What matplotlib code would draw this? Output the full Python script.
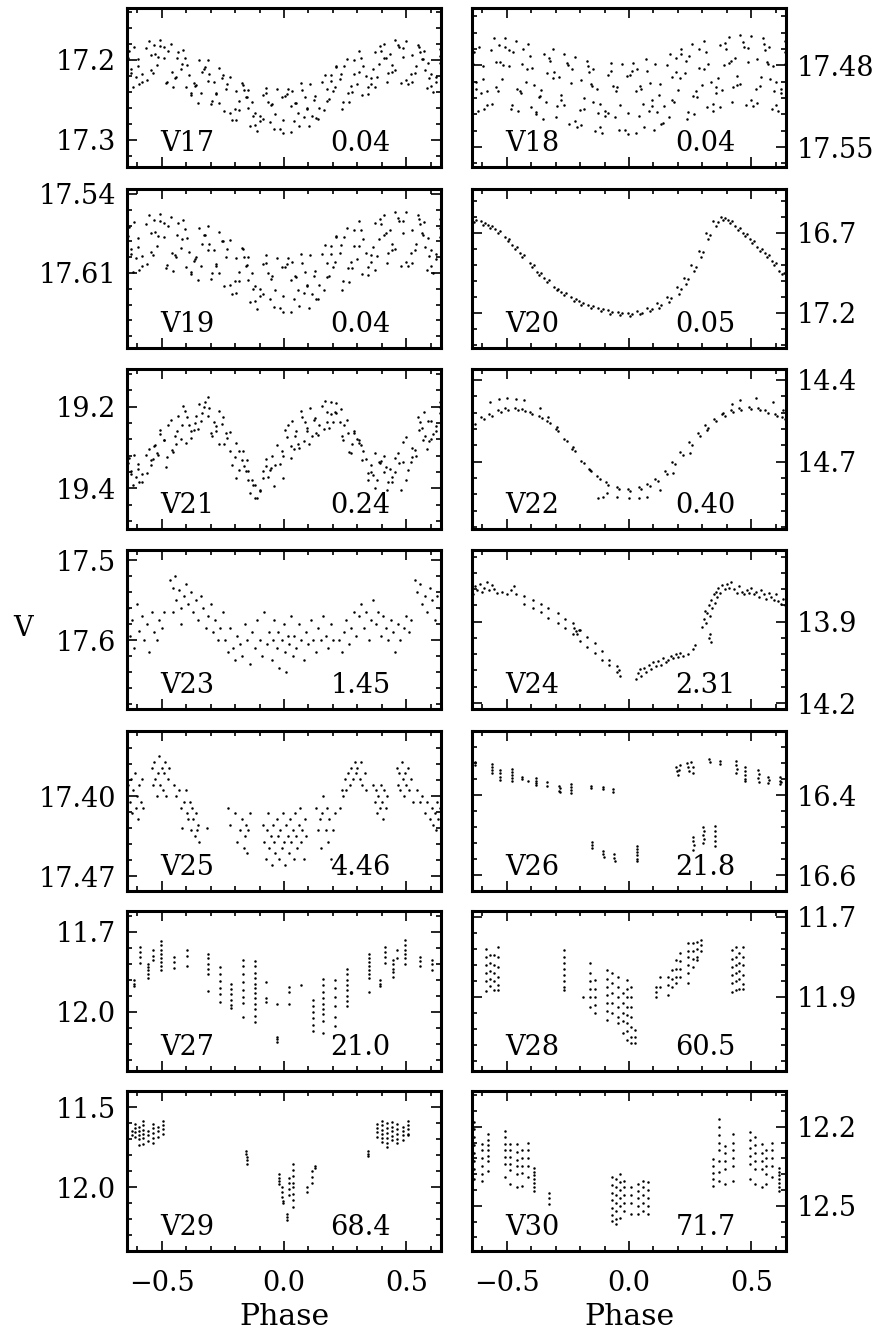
import numpy as np
import matplotlib
matplotlib.use("Agg")
import matplotlib.pyplot as plt

plt.rcParams['font.family'] = ['DejaVu Serif']
plt.rcParams['axes.unicode_minus'] = True

# ---------------- panel descriptions ----------------
NAMES = ['V17', 'V18', 'V19', 'V20', 'V21', 'V22', 'V23', 'V24',
         'V25', 'V26', 'V27', 'V28', 'V29', 'V30']
PERIODS = ['0.04', '0.04', '0.04', '0.05', '0.24', '0.40', '1.45', '2.31',
           '4.46', '21.8', '21.0', '60.5', '68.4', '71.7']
# (faint limit, bright limit) -> magnitude axis inverted
YLIMS = [(17.334, 17.135), (17.567, 17.431), (17.6765, 17.5356), (17.42, 16.425),
         (19.50, 19.108), (14.947, 14.36), (17.686, 17.4875), (14.222, 13.636),
         (17.483, 17.343), (16.64, 16.24), (12.222, 11.622), (12.086, 11.686),
         (12.398, 11.398), (12.672, 12.064)]
YTICKS = [[17.2, 17.3], [17.48, 17.55], [17.54, 17.61], [16.7, 17.2],
          [19.2, 19.4], [14.4, 14.7], [17.5, 17.6], [13.9, 14.2],
          [17.40, 17.47], [16.4, 16.6], [11.7, 12.0], [11.7, 11.9],
          [11.5, 12.0], [12.2, 12.5]]
YTICKLABELS = [['17.2', '17.3'], ['17.48', '17.55'], ['17.54', '17.61'], ['16.7', '17.2'],
               ['19.2', '19.4'], ['14.4', '14.7'], ['17.5', '17.6'], ['13.9', '14.2'],
               ['17.40', '17.47'], ['16.4', '16.6'], ['11.7', '12.0'], ['11.7', '11.9'],
               ['11.5', '12.0'], ['12.2', '12.5']]
XTICKS = [-0.5, 0.0, 0.5]
XTICKLABELS = ['\u22120.5', '0.0', '0.5']

# ---------------- data (phase, magnitude) ----------------
# sample phases shared by the wide-band light curves (set A: 6 per row)
PH_A = [-0.639, -0.618, -0.636, -0.606, -0.634, -0.626,
        -0.552, -0.590, -0.545, -0.579, -0.564, -0.598,
        -0.507, -0.483, -0.527, -0.536, -0.489, -0.518,
        -0.462, -0.453, -0.436, -0.441, -0.474, -0.422,
        -0.412, -0.378, -0.396, -0.366, -0.405, -0.386,
        -0.312, -0.350, -0.305, -0.339, -0.324, -0.358,
        -0.267, -0.243, -0.287, -0.296, -0.249, -0.278,
        -0.222, -0.213, -0.196, -0.201, -0.234, -0.182,
        -0.172, -0.138, -0.156, -0.126, -0.165, -0.146,
        -0.072, -0.110, -0.065, -0.099, -0.084, -0.118,
        -0.027, -0.003, -0.047, -0.056, -0.009, -0.038,
        0.018, 0.027, 0.044, 0.039, 0.006, 0.058,
        0.068, 0.102, 0.084, 0.114, 0.075, 0.094,
        0.168, 0.130, 0.175, 0.141, 0.156, 0.122,
        0.213, 0.237, 0.193, 0.184, 0.231, 0.202,
        0.258, 0.267, 0.284, 0.279, 0.246, 0.298,
        0.308, 0.342, 0.324, 0.354, 0.315, 0.334,
        0.408, 0.370, 0.415, 0.381, 0.396, 0.362,
        0.453, 0.477, 0.433, 0.424, 0.471, 0.442,
        0.498, 0.507, 0.524, 0.519, 0.486, 0.538,
        0.548, 0.582, 0.564, 0.594, 0.555, 0.574,
        0.638, 0.610, 0.637, 0.621, 0.636, 0.602]
# set B: 4 per row, in between the rows of set A
PH_B = [-0.614, -0.581, -0.595, -0.625,
        -0.529, -0.558, -0.513, -0.544,
        -0.507, -0.478, -0.491, -0.458,
        -0.434, -0.401, -0.415, -0.445,
        -0.349, -0.378, -0.333, -0.364,
        -0.327, -0.298, -0.311, -0.278,
        -0.254, -0.221, -0.235, -0.265,
        -0.169, -0.198, -0.153, -0.184,
        -0.147, -0.118, -0.131, -0.098,
        -0.074, -0.041, -0.055, -0.085,
        0.011, -0.018, 0.027, -0.004,
        0.033, 0.062, 0.049, 0.082,
        0.106, 0.139, 0.125, 0.095,
        0.191, 0.162, 0.207, 0.176,
        0.213, 0.242, 0.229, 0.262,
        0.286, 0.319, 0.305, 0.275,
        0.371, 0.342, 0.387, 0.356,
        0.393, 0.422, 0.409, 0.442,
        0.466, 0.499, 0.485, 0.455,
        0.551, 0.522, 0.567, 0.536,
        0.573, 0.602, 0.589, 0.622]

V17_MAG_A = [17.180, 17.234, 17.198, 17.221, 17.189, 17.211,
             17.176, 17.230, 17.194, 17.217, 17.185, 17.207,
             17.175, 17.229, 17.193, 17.216, 17.184, 17.206,
             17.180, 17.234, 17.198, 17.221, 17.189, 17.211,
             17.188, 17.242, 17.206, 17.229, 17.197, 17.219,
             17.200, 17.254, 17.218, 17.241, 17.209, 17.231,
             17.210, 17.264, 17.228, 17.251, 17.219, 17.241,
             17.221, 17.275, 17.239, 17.262, 17.230, 17.252,
             17.229, 17.283, 17.247, 17.270, 17.238, 17.260,
             17.235, 17.289, 17.253, 17.276, 17.244, 17.266,
             17.237, 17.291, 17.255, 17.278, 17.246, 17.268,
             17.236, 17.290, 17.254, 17.277, 17.245, 17.267,
             17.229, 17.283, 17.247, 17.270, 17.238, 17.260,
             17.219, 17.273, 17.237, 17.260, 17.228, 17.250,
             17.208, 17.262, 17.226, 17.249, 17.217, 17.239,
             17.199, 17.253, 17.217, 17.240, 17.208, 17.230,
             17.189, 17.243, 17.207, 17.230, 17.198, 17.220,
             17.180, 17.234, 17.198, 17.221, 17.189, 17.211,
             17.175, 17.229, 17.193, 17.216, 17.184, 17.206,
             17.176, 17.230, 17.194, 17.217, 17.185, 17.207,
             17.181, 17.235, 17.199, 17.222, 17.190, 17.212,
             17.186, 17.240, 17.204, 17.227, 17.195, 17.217]
V17_MAG_B = [17.184, 17.228, 17.199, 17.216,
             17.181, 17.225, 17.196, 17.213,
             17.183, 17.227, 17.198, 17.215,
             17.190, 17.234, 17.205, 17.222,
             17.200, 17.244, 17.215, 17.232,
             17.211, 17.255, 17.226, 17.243,
             17.222, 17.266, 17.237, 17.254,
             17.231, 17.275, 17.246, 17.263,
             17.238, 17.282, 17.253, 17.270,
             17.242, 17.286, 17.257, 17.274,
             17.243, 17.287, 17.258, 17.275,
             17.239, 17.283, 17.254, 17.271,
             17.230, 17.274, 17.245, 17.262,
             17.219, 17.263, 17.234, 17.251,
             17.209, 17.253, 17.224, 17.241,
             17.200, 17.244, 17.215, 17.232,
             17.190, 17.234, 17.205, 17.222,
             17.183, 17.227, 17.198, 17.215,
             17.181, 17.225, 17.196, 17.213,
             17.184, 17.228, 17.199, 17.216,
             17.189, 17.233, 17.204, 17.221]

V18_MAG_A = [17.459, 17.519, 17.479, 17.504, 17.469, 17.494,
             17.457, 17.517, 17.477, 17.502, 17.467, 17.492,
             17.457, 17.517, 17.477, 17.502, 17.467, 17.492,
             17.459, 17.519, 17.479, 17.504, 17.469, 17.494,
             17.462, 17.522, 17.482, 17.507, 17.472, 17.497,
             17.466, 17.526, 17.486, 17.511, 17.476, 17.501,
             17.470, 17.530, 17.490, 17.515, 17.480, 17.505,
             17.473, 17.533, 17.493, 17.518, 17.483, 17.508,
             17.476, 17.536, 17.496, 17.521, 17.486, 17.511,
             17.478, 17.538, 17.498, 17.523, 17.488, 17.513,
             17.479, 17.539, 17.499, 17.524, 17.489, 17.514,
             17.478, 17.538, 17.498, 17.523, 17.488, 17.513,
             17.475, 17.535, 17.495, 17.520, 17.485, 17.510,
             17.470, 17.530, 17.490, 17.515, 17.480, 17.505,
             17.466, 17.526, 17.486, 17.511, 17.476, 17.501,
             17.462, 17.522, 17.482, 17.507, 17.472, 17.497,
             17.459, 17.519, 17.479, 17.504, 17.469, 17.494,
             17.456, 17.516, 17.476, 17.501, 17.466, 17.491,
             17.454, 17.514, 17.474, 17.499, 17.464, 17.489,
             17.455, 17.515, 17.475, 17.500, 17.465, 17.490,
             17.457, 17.517, 17.477, 17.502, 17.467, 17.492,
             17.459, 17.519, 17.479, 17.504, 17.469, 17.494]
V18_MAG_B = [17.464, 17.514, 17.481, 17.500,
             17.463, 17.513, 17.480, 17.499,
             17.464, 17.514, 17.481, 17.500,
             17.466, 17.516, 17.483, 17.502,
             17.470, 17.520, 17.487, 17.506,
             17.474, 17.524, 17.491, 17.510,
             17.478, 17.528, 17.495, 17.514,
             17.481, 17.531, 17.498, 17.517,
             17.483, 17.533, 17.500, 17.519,
             17.485, 17.535, 17.502, 17.521,
             17.485, 17.535, 17.502, 17.521,
             17.483, 17.533, 17.500, 17.519,
             17.479, 17.529, 17.496, 17.515,
             17.474, 17.524, 17.491, 17.510,
             17.470, 17.520, 17.487, 17.506,
             17.466, 17.516, 17.483, 17.502,
             17.463, 17.513, 17.480, 17.499,
             17.461, 17.511, 17.478, 17.497,
             17.460, 17.510, 17.477, 17.496,
             17.462, 17.512, 17.479, 17.498,
             17.464, 17.514, 17.481, 17.500]

V19_MAG_A = [17.561, 17.609, 17.577, 17.597, 17.569, 17.589,
             17.559, 17.607, 17.575, 17.595, 17.567, 17.587,
             17.558, 17.606, 17.574, 17.594, 17.566, 17.586,
             17.560, 17.608, 17.576, 17.596, 17.568, 17.588,
             17.563, 17.611, 17.579, 17.599, 17.571, 17.591,
             17.568, 17.616, 17.584, 17.604, 17.576, 17.596,
             17.574, 17.622, 17.590, 17.610, 17.582, 17.602,
             17.581, 17.629, 17.597, 17.617, 17.589, 17.609,
             17.588, 17.636, 17.604, 17.624, 17.596, 17.616,
             17.594, 17.642, 17.610, 17.630, 17.602, 17.622,
             17.597, 17.645, 17.613, 17.633, 17.605, 17.625,
             17.597, 17.645, 17.613, 17.633, 17.605, 17.625,
             17.593, 17.641, 17.609, 17.629, 17.601, 17.621,
             17.585, 17.633, 17.601, 17.621, 17.593, 17.613,
             17.577, 17.625, 17.593, 17.613, 17.585, 17.605,
             17.570, 17.618, 17.586, 17.606, 17.578, 17.598,
             17.564, 17.612, 17.580, 17.600, 17.572, 17.592,
             17.559, 17.607, 17.575, 17.595, 17.567, 17.587,
             17.556, 17.604, 17.572, 17.592, 17.564, 17.584,
             17.556, 17.604, 17.572, 17.592, 17.564, 17.584,
             17.559, 17.607, 17.575, 17.595, 17.567, 17.587,
             17.562, 17.610, 17.578, 17.598, 17.570, 17.590]
V19_MAG_B = [17.565, 17.604, 17.579, 17.593,
             17.563, 17.602, 17.577, 17.591,
             17.564, 17.603, 17.578, 17.592,
             17.566, 17.605, 17.580, 17.594,
             17.570, 17.609, 17.584, 17.598,
             17.576, 17.615, 17.590, 17.604,
             17.582, 17.621, 17.596, 17.610,
             17.589, 17.628, 17.603, 17.617,
             17.596, 17.635, 17.610, 17.624,
             17.601, 17.640, 17.615, 17.629,
             17.602, 17.641, 17.616, 17.630,
             17.600, 17.639, 17.614, 17.628,
             17.594, 17.633, 17.608, 17.622,
             17.586, 17.625, 17.600, 17.614,
             17.578, 17.617, 17.592, 17.606,
             17.572, 17.611, 17.586, 17.600,
             17.566, 17.605, 17.580, 17.594,
             17.562, 17.601, 17.576, 17.590,
             17.561, 17.600, 17.575, 17.589,
             17.562, 17.601, 17.576, 17.590,
             17.565, 17.604, 17.579, 17.593]

V21_MAG_A = [19.312, 19.392, 19.339, 19.372, 19.325, 19.359,
             19.305, 19.385, 19.332, 19.365, 19.318, 19.352,
             19.268, 19.348, 19.295, 19.328, 19.281, 19.315,
             19.232, 19.312, 19.259, 19.292, 19.245, 19.279,
             19.198, 19.278, 19.225, 19.258, 19.211, 19.245,
             19.176, 19.256, 19.203, 19.236, 19.189, 19.223,
             19.212, 19.292, 19.239, 19.272, 19.225, 19.259,
             19.263, 19.343, 19.290, 19.323, 19.276, 19.310,
             19.332, 19.412, 19.359, 19.392, 19.345, 19.379,
             19.345, 19.425, 19.372, 19.405, 19.358, 19.392,
             19.295, 19.375, 19.322, 19.355, 19.308, 19.342,
             19.245, 19.325, 19.272, 19.305, 19.258, 19.292,
             19.212, 19.292, 19.239, 19.272, 19.225, 19.259,
             19.186, 19.266, 19.213, 19.246, 19.199, 19.233,
             19.192, 19.272, 19.219, 19.252, 19.205, 19.239,
             19.232, 19.312, 19.259, 19.292, 19.245, 19.279,
             19.282, 19.362, 19.309, 19.342, 19.295, 19.329,
             19.320, 19.400, 19.347, 19.380, 19.333, 19.367,
             19.325, 19.405, 19.352, 19.385, 19.338, 19.372,
             19.275, 19.355, 19.302, 19.335, 19.288, 19.322,
             19.225, 19.305, 19.252, 19.285, 19.238, 19.272,
             19.188, 19.268, 19.215, 19.248, 19.201, 19.235]
V21_MAG_B = [19.318, 19.384, 19.341, 19.366,
             19.296, 19.362, 19.319, 19.344,
             19.258, 19.324, 19.281, 19.306,
             19.223, 19.289, 19.246, 19.271,
             19.193, 19.259, 19.216, 19.241,
             19.200, 19.266, 19.223, 19.248,
             19.243, 19.309, 19.266, 19.291,
             19.308, 19.374, 19.331, 19.356,
             19.358, 19.424, 19.381, 19.406,
             19.328, 19.394, 19.351, 19.376,
             19.274, 19.340, 19.297, 19.322,
             19.236, 19.302, 19.259, 19.284,
             19.204, 19.270, 19.227, 19.252,
             19.190, 19.256, 19.213, 19.238,
             19.216, 19.282, 19.239, 19.264,
             19.266, 19.332, 19.289, 19.314,
             19.313, 19.379, 19.336, 19.361,
             19.338, 19.404, 19.361, 19.386,
             19.313, 19.379, 19.336, 19.361,
             19.258, 19.324, 19.281, 19.306,
             19.213, 19.279, 19.236, 19.261]

V20_PTS = [(-0.639, 16.608), (-0.632, 16.630), (-0.625, 16.618),
           (-0.606, 16.628), (-0.596, 16.650), (-0.588, 16.638),
           (-0.576, 16.648), (-0.566, 16.670), (-0.558, 16.658),
           (-0.546, 16.678), (-0.536, 16.700), (-0.528, 16.688),
           (-0.506, 16.728), (-0.496, 16.750), (-0.488, 16.738),
           (-0.476, 16.778), (-0.466, 16.800), (-0.458, 16.788),
           (-0.446, 16.828), (-0.436, 16.850), (-0.428, 16.838),
           (-0.406, 16.888), (-0.396, 16.910), (-0.388, 16.898),
           (-0.376, 16.943), (-0.366, 16.965), (-0.358, 16.953),
           (-0.346, 16.983), (-0.336, 17.005), (-0.328, 16.993),
           (-0.306, 17.038), (-0.296, 17.060), (-0.288, 17.048),
           (-0.276, 17.068), (-0.266, 17.090), (-0.258, 17.078),
           (-0.236, 17.103), (-0.226, 17.125), (-0.218, 17.113),
           (-0.206, 17.128), (-0.196, 17.150), (-0.188, 17.138),
           (-0.166, 17.148), (-0.156, 17.170), (-0.148, 17.158),
           (-0.126, 17.168), (-0.116, 17.190), (-0.108, 17.178),
           (-0.086, 17.183), (-0.076, 17.205), (-0.068, 17.193),
           (-0.046, 17.193), (-0.036, 17.215), (-0.028, 17.203),
           (-0.006, 17.198), (0.004, 17.220), (0.012, 17.208),
           (0.034, 17.188), (0.044, 17.210), (0.052, 17.198),
           (0.074, 17.168), (0.084, 17.190), (0.092, 17.178),
           (0.114, 17.140), (0.124, 17.168), (0.132, 17.150),
           (0.154, 17.100), (0.164, 17.130), (0.172, 17.110),
           (0.194, 17.040), (0.204, 17.080), (0.212, 17.050),
           (0.224, 16.980), (0.234, 17.020), (0.242, 16.990),
           (0.254, 16.900), (0.264, 16.940), (0.272, 16.910),
           (0.284, 16.810), (0.294, 16.850), (0.302, 16.820),
           (0.314, 16.700), (0.324, 16.740), (0.332, 16.710),
           (0.344, 16.625), (0.354, 16.655), (0.362, 16.632),
           (0.374, 16.598), (0.384, 16.620), (0.392, 16.608),
           (0.404, 16.618), (0.414, 16.640), (0.422, 16.628),
           (0.434, 16.658), (0.444, 16.680), (0.452, 16.668),
           (0.464, 16.698), (0.474, 16.720), (0.482, 16.708),
           (0.494, 16.738), (0.504, 16.760), (0.512, 16.748),
           (0.524, 16.788), (0.534, 16.810), (0.542, 16.798),
           (0.554, 16.828), (0.564, 16.850), (0.572, 16.838),
           (0.584, 16.878), (0.594, 16.900), (0.602, 16.888),
           (0.614, 16.938), (0.624, 16.960), (0.632, 16.948)]

V22_PTS = [(-0.639, 14.555), (-0.629, 14.563), (-0.605, 14.536), (-0.594, 14.544),
           (-0.572, 14.525), (-0.561, 14.533), (-0.535, 14.511), (-0.524, 14.519),
           (-0.505, 14.504), (-0.494, 14.512), (-0.465, 14.502), (-0.454, 14.510),
           (-0.435, 14.506), (-0.424, 14.514), (-0.405, 14.516), (-0.394, 14.524),
           (-0.368, 14.531), (-0.357, 14.539), (-0.335, 14.551), (-0.324, 14.559),
           (-0.300, 14.580), (-0.289, 14.588), (-0.265, 14.616), (-0.254, 14.624),
           (-0.232, 14.653), (-0.221, 14.661), (-0.195, 14.696), (-0.184, 14.704),
           (-0.165, 14.726), (-0.154, 14.734), (-0.130, 14.754), (-0.119, 14.762),
           (-0.095, 14.776), (-0.084, 14.784), (-0.050, 14.792), (-0.039, 14.800),
           (-0.005, 14.800), (0.006, 14.808), (0.040, 14.794), (0.051, 14.802),
           (0.075, 14.781), (0.086, 14.789), (0.108, 14.763), (0.119, 14.771),
           (0.145, 14.736), (0.156, 14.744), (0.175, 14.702), (0.186, 14.710),
           (0.210, 14.666), (0.221, 14.674), (0.245, 14.629), (0.256, 14.637),
           (0.280, 14.596), (0.291, 14.604), (0.312, 14.567), (0.323, 14.575),
           (0.345, 14.544), (0.356, 14.552), (0.380, 14.525), (0.391, 14.533),
           (0.415, 14.511), (0.426, 14.519), (0.448, 14.504), (0.459, 14.512),
           (0.489, 14.500), (0.500, 14.508), (0.525, 14.504), (0.536, 14.512),
           (0.557, 14.512), (0.568, 14.520), (0.595, 14.526), (0.606, 14.534),
           (0.625, 14.537), (0.636, 14.545),
           # second, offset sequence of points
           (-0.567, 14.480), (-0.530, 14.470), (-0.500, 14.467), (-0.460, 14.470),
           (-0.430, 14.473), (-0.363, 14.504), (-0.330, 14.535), (-0.295, 14.571),
           (-0.227, 14.645), (-0.160, 14.730), (-0.125, 14.832), (-0.105, 14.828),
           (-0.090, 14.816), (-0.050, 14.830), (0.000, 14.835), (0.040, 14.832),
           (0.072, 14.829), (0.126, 14.804), (0.180, 14.743), (0.250, 14.669),
           (0.317, 14.584), (0.385, 14.522), (0.420, 14.490), (0.453, 14.473),
           (0.520, 14.467), (0.589, 14.480), (0.630, 14.510)]

V23_PTS = [(-0.635, 17.560), (-0.628, 17.595), (-0.620, 17.575), (-0.612, 17.610),
           (-0.600, 17.555), (-0.590, 17.588), (-0.580, 17.570), (-0.570, 17.600),
           (-0.560, 17.580), (-0.550, 17.615), (-0.540, 17.565), (-0.530, 17.590),
           (-0.520, 17.600), (-0.510, 17.575), (-0.500, 17.585), (-0.490, 17.565),
           (-0.465, 17.525), (-0.455, 17.535), (-0.445, 17.520), (-0.440, 17.550),
           (-0.430, 17.538), (-0.420, 17.560), (-0.410, 17.545), (-0.400, 17.530),
           (-0.390, 17.555), (-0.380, 17.540), (-0.370, 17.565), (-0.360, 17.550),
           (-0.350, 17.575), (-0.340, 17.545), (-0.330, 17.560), (-0.320, 17.585),
           (-0.310, 17.570), (-0.300, 17.555), (-0.290, 17.590), (-0.280, 17.575),
           (-0.270, 17.600), (-0.260, 17.585), (-0.250, 17.565), (-0.455, 17.565),
           (-0.420, 17.580),
           (-0.240, 17.600), (-0.230, 17.615), (-0.220, 17.585), (-0.210, 17.610),
           (-0.200, 17.625), (-0.190, 17.595), (-0.180, 17.605), (-0.170, 17.620),
           (-0.160, 17.580), (-0.150, 17.600), (-0.140, 17.630), (-0.130, 17.590),
           (-0.120, 17.610), (-0.110, 17.575), (-0.100, 17.600), (-0.090, 17.620),
           (-0.080, 17.565), (-0.070, 17.605), (-0.060, 17.590), (-0.050, 17.625),
           (-0.045, 17.600), (-0.040, 17.575), (-0.030, 17.610), (-0.025, 17.590),
           (-0.020, 17.635), (-0.010, 17.600), (0.000, 17.580), (0.005, 17.615),
           (0.010, 17.640), (0.015, 17.595), (0.020, 17.605), (0.030, 17.570),
           (0.035, 17.620), (0.040, 17.595), (0.050, 17.610), (0.060, 17.580),
           (0.070, 17.600), (0.080, 17.625), (0.090, 17.590), (0.100, 17.605),
           (0.110, 17.575), (0.120, 17.600), (0.130, 17.615), (0.140, 17.585),
           (0.150, 17.600), (0.160, 17.570), (0.170, 17.595), (0.180, 17.610),
           (0.190, 17.580), (0.200, 17.600),
           (0.225, 17.600), (0.235, 17.615), (0.245, 17.590), (0.255, 17.575),
           (0.265, 17.605), (0.275, 17.585), (0.285, 17.565), (0.295, 17.595),
           (0.305, 17.570), (0.315, 17.555), (0.325, 17.585), (0.335, 17.565),
           (0.345, 17.600), (0.355, 17.575), (0.365, 17.550), (0.375, 17.580),
           (0.385, 17.565), (0.395, 17.595), (0.405, 17.570), (0.415, 17.585),
           (0.425, 17.600), (0.435, 17.575), (0.445, 17.590), (0.455, 17.615),
           (0.465, 17.580), (0.475, 17.600), (0.490, 17.585), (0.500, 17.570),
           (0.510, 17.590), (0.520, 17.575),
           (0.535, 17.525), (0.545, 17.540), (0.555, 17.530), (0.565, 17.555),
           (0.575, 17.545), (0.585, 17.565), (0.595, 17.535), (0.605, 17.550),
           (0.615, 17.575), (0.625, 17.545), (0.635, 17.560)]

V24_PTS = [(-0.635, 13.800), (-0.630, 13.770), (-0.620, 13.785), (-0.610, 13.760),
           (-0.600, 13.790), (-0.590, 13.775), (-0.580, 13.755), (-0.570, 13.785),
           (-0.560, 13.765), (-0.550, 13.780), (-0.540, 13.795), (-0.520, 13.790),
           (-0.500, 13.800), (-0.480, 13.785), (-0.470, 13.770), (-0.460, 13.800),
           (-0.430, 13.805), (-0.390, 13.820), (-0.360, 13.835), (-0.330, 13.850),
           (-0.290, 13.870), (-0.260, 13.890), (-0.230, 13.905), (-0.200, 13.930),
           (-0.170, 13.955), (-0.140, 13.980), (-0.110, 14.010), (-0.080, 14.040),
           (-0.050, 14.065), (-0.040, 14.080),
           (-0.430, 13.835), (-0.390, 13.850), (-0.360, 13.865), (-0.330, 13.885),
           (-0.290, 13.905), (-0.260, 13.925), (-0.230, 13.945), (-0.200, 13.970),
           (-0.170, 13.995), (-0.140, 14.015), (-0.110, 14.040), (-0.080, 14.060),
           (-0.050, 14.085), (-0.035, 14.100),
           (-0.225, 13.925), (-0.218, 13.935), (-0.212, 13.945), (-0.205, 13.930),
           (0.030, 14.110), (0.035, 14.090), (0.045, 14.075), (0.050, 14.100),
           (0.060, 14.070), (0.070, 14.085), (0.080, 14.060), (0.090, 14.075),
           (0.100, 14.050), (0.110, 14.065), (0.120, 14.045), (0.130, 14.060),
           (0.140, 14.035), (0.150, 14.050), (0.160, 14.040), (0.170, 14.025),
           (0.180, 14.035), (0.190, 14.020), (0.200, 14.030), (0.210, 14.015),
           (0.220, 14.025), (0.240, 14.020), (0.260, 14.000), (0.270, 13.985),
           (0.300, 13.920), (0.305, 13.890), (0.310, 13.860), (0.315, 13.905),
           (0.320, 13.870), (0.325, 13.840), (0.330, 13.880), (0.335, 13.820),
           (0.340, 13.850), (0.345, 13.800), (0.350, 13.830), (0.355, 13.790),
           (0.360, 13.810), (0.365, 13.775), (0.370, 13.795), (0.380, 13.765),
           (0.390, 13.780), (0.400, 13.760), (0.410, 13.775), (0.415, 13.755),
           (0.325, 13.960), (0.330, 13.945), (0.335, 13.975),
           (0.430, 13.780), (0.440, 13.795), (0.450, 13.770), (0.460, 13.790),
           (0.470, 13.800), (0.480, 13.785), (0.490, 13.795), (0.500, 13.775),
           (0.510, 13.800), (0.520, 13.790), (0.530, 13.810), (0.540, 13.785),
           (0.550, 13.800), (0.560, 13.815), (0.570, 13.795), (0.580, 13.810),
           (0.590, 13.820), (0.600, 13.800), (0.610, 13.825), (0.620, 13.835),
           (0.630, 13.815), (0.635, 13.840)]

V25_PTS = [(-0.635, 17.390), (-0.630, 17.405), (-0.625, 17.385), (-0.620, 17.415),
           (-0.615, 17.395), (-0.610, 17.380), (-0.605, 17.410), (-0.600, 17.400),
           (-0.595, 17.420), (-0.590, 17.390), (-0.585, 17.405), (-0.580, 17.385),
           (-0.575, 17.410),
           (-0.540, 17.375), (-0.535, 17.390), (-0.530, 17.370), (-0.525, 17.385),
           (-0.520, 17.400), (-0.515, 17.380), (-0.510, 17.365), (-0.505, 17.390),
           (-0.500, 17.375), (-0.495, 17.395), (-0.490, 17.380), (-0.485, 17.370),
           (-0.480, 17.400), (-0.475, 17.385), (-0.470, 17.375),
           (-0.450, 17.390), (-0.440, 17.400), (-0.430, 17.395), (-0.420, 17.410),
           (-0.410, 17.405), (-0.400, 17.395), (-0.395, 17.415), (-0.390, 17.420),
           (-0.385, 17.405), (-0.380, 17.430), (-0.375, 17.410), (-0.370, 17.420),
           (-0.365, 17.435), (-0.360, 17.415), (-0.355, 17.430), (-0.350, 17.425),
           (-0.345, 17.440), (-0.418, 17.428), (-0.316, 17.428),
           (-0.230, 17.410), (-0.220, 17.425), (-0.200, 17.415), (-0.190, 17.440),
           (-0.180, 17.430), (-0.170, 17.420), (-0.165, 17.445), (-0.160, 17.435),
           (-0.155, 17.425), (-0.150, 17.450), (-0.145, 17.430), (-0.140, 17.415),
           (-0.085, 17.425), (-0.080, 17.440), (-0.075, 17.455), (-0.070, 17.430),
           (-0.065, 17.415), (-0.060, 17.445), (-0.055, 17.435), (-0.050, 17.460),
           (-0.045, 17.425), (-0.040, 17.440), (-0.035, 17.450), (-0.030, 17.420),
           (-0.025, 17.435), (-0.020, 17.455), (-0.015, 17.430), (-0.010, 17.445),
           (-0.005, 17.415), (0.000, 17.440), (0.005, 17.460), (0.010, 17.425),
           (0.015, 17.435), (0.020, 17.450), (0.025, 17.420), (0.030, 17.440),
           (0.035, 17.430), (0.040, 17.455), (0.045, 17.415), (0.050, 17.435),
           (0.055, 17.445), (0.060, 17.425), (0.065, 17.410), (0.070, 17.440),
           (0.075, 17.430), (0.080, 17.455), (0.085, 17.420), (0.090, 17.435),
           (0.130, 17.410), (0.140, 17.430), (0.145, 17.420), (0.150, 17.445),
           (0.155, 17.415), (0.160, 17.400), (0.170, 17.430), (0.175, 17.410),
           (0.180, 17.440), (0.185, 17.420), (0.190, 17.455), (0.200, 17.430),
           (0.210, 17.415),
           (0.230, 17.410), (0.235, 17.395), (0.240, 17.400), (0.250, 17.385),
           (0.255, 17.395), (0.260, 17.380), (0.270, 17.390), (0.275, 17.375),
           (0.280, 17.385), (0.290, 17.370), (0.295, 17.380), (0.300, 17.375),
           (0.310, 17.385), (0.315, 17.370), (0.320, 17.390), (0.330, 17.380),
           (0.335, 17.395),
           (0.365, 17.390), (0.370, 17.405), (0.375, 17.395), (0.380, 17.415),
           (0.385, 17.400), (0.390, 17.410), (0.395, 17.390), (0.400, 17.405),
           (0.405, 17.420), (0.410, 17.395), (0.415, 17.410), (0.420, 17.400),
           (0.460, 17.375), (0.465, 17.390), (0.470, 17.380), (0.475, 17.395),
           (0.480, 17.370), (0.485, 17.385), (0.490, 17.400), (0.495, 17.380),
           (0.500, 17.390), (0.505, 17.375), (0.510, 17.395), (0.520, 17.385),
           (0.525, 17.405),
           (0.545, 17.395), (0.555, 17.405), (0.565, 17.400), (0.575, 17.415),
           (0.585, 17.405), (0.595, 17.420), (0.605, 17.410), (0.610, 17.425),
           (0.615, 17.415), (0.620, 17.430), (0.625, 17.405), (0.630, 17.420),
           (0.635, 17.410)]

V26_PTS = [(-0.629, 16.318), (-0.629, 16.324),
           (-0.560, 16.322), (-0.560, 16.330), (-0.558, 16.338), (-0.560, 16.346),
           (-0.527, 16.338), (-0.525, 16.346), (-0.527, 16.354), (-0.525, 16.362),
           (-0.479, 16.334), (-0.477, 16.342), (-0.479, 16.350), (-0.477, 16.358),
           (-0.479, 16.366), (-0.438, 16.355), (-0.436, 16.360), (-0.411, 16.365),
           (-0.380, 16.358), (-0.378, 16.364), (-0.380, 16.370), (-0.378, 16.375),
           (-0.336, 16.368), (-0.336, 16.378),
           (-0.284, 16.377), (-0.282, 16.383), (-0.284, 16.389), (-0.282, 16.393),
           (-0.238, 16.373), (-0.236, 16.381), (-0.238, 16.388), (-0.236, 16.395),
           (-0.155, 16.377), (-0.155, 16.383), (-0.107, 16.380), (-0.105, 16.386),
           (-0.064, 16.385), (-0.064, 16.392),
           (-0.152, 16.517), (-0.152, 16.525), (-0.150, 16.533),
           (-0.105, 16.540), (-0.105, 16.548), (-0.103, 16.556),
           (-0.061, 16.548), (-0.061, 16.558), (-0.059, 16.566),
           (0.031, 16.527), (0.033, 16.535), (0.031, 16.543), (0.033, 16.551),
           (0.031, 16.559), (0.033, 16.566),
           (0.263, 16.505), (0.263, 16.515), (0.265, 16.525), (0.263, 16.537),
           (0.303, 16.480), (0.305, 16.490), (0.303, 16.500), (0.305, 16.510),
           (0.303, 16.520),
           (0.351, 16.477), (0.351, 16.490), (0.351, 16.503), (0.351, 16.516),
           (0.351, 16.528),
           (0.190, 16.330), (0.195, 16.340), (0.200, 16.350), (0.205, 16.338),
           (0.210, 16.325), (0.235, 16.320), (0.240, 16.330), (0.245, 16.340),
           (0.255, 16.318), (0.260, 16.330), (0.262, 16.345),
           (0.328, 16.310), (0.330, 16.318), (0.371, 16.316), (0.373, 16.322),
           (0.437, 16.315), (0.437, 16.325), (0.439, 16.335), (0.437, 16.345),
           (0.473, 16.330), (0.475, 16.340), (0.473, 16.350), (0.475, 16.360),
           (0.473, 16.366),
           (0.528, 16.338), (0.530, 16.348), (0.528, 16.358), (0.530, 16.368),
           (0.569, 16.355), (0.571, 16.362), (0.569, 16.370),
           (0.616, 16.356), (0.618, 16.364), (0.616, 16.372), (0.620, 16.368)]

# streaks: (phase, [magnitudes measured at that phase])
V27_STREAKS = [(-0.611, [11.882, 11.894, 11.905]),
               (-0.588, [11.757, 11.775, 11.795, 11.818]),
               (-0.554, [11.820, 11.832, 11.845, 11.858, 11.872]),
               (-0.536, [11.770, 11.790, 11.805]),
               (-0.503, [11.733, 11.750, 11.768, 11.785, 11.800, 11.815, 11.830, 11.843]),
               (-0.448, [11.795, 11.815, 11.835]),
               (-0.397, [11.770, 11.790, 11.830]),
               (-0.309, [11.782, 11.800, 11.820, 11.840, 11.860, 11.922]),
               (-0.261, [11.832, 11.860, 11.885, 11.910, 11.935, 11.965]),
               (-0.218, [11.895, 11.915, 11.935, 11.955, 11.975, 11.987]),
               (-0.166, [11.807, 11.830, 11.860, 11.890, 11.920, 11.945, 11.968, 12.020]),
               (-0.118, [11.808, 11.830, 11.855, 11.875, 11.895, 11.910, 11.930, 11.950,
                         11.970, 11.990, 12.015, 12.040]),
               (-0.075, [11.888, 11.950, 11.965]),
               (-0.027, [11.969, 12.094, 12.103, 12.112]),
               (0.022, [11.906, 11.925, 11.969]),
               (0.069, [11.900]),
               (0.117, [11.957, 11.980, 12.000, 12.025, 12.050, 12.073]),
               (0.161, [11.876, 11.900, 11.925, 11.950, 11.970, 11.990, 12.010, 12.035, 12.080]),
               (0.208, [11.882, 11.910, 11.945, 11.980, 12.020, 12.055]),
               (0.256, [11.840, 11.857, 11.880, 11.900, 11.920, 11.940, 11.960, 11.980]),
               (0.348, [11.782, 11.800, 11.815, 11.830, 11.845, 11.860, 11.875, 11.925]),
               (0.392, [11.882, 11.895, 11.905]),
               (0.412, [11.757, 11.775, 11.795, 11.818]),
               (0.446, [11.807, 11.822, 11.838, 11.852, 11.870]),
               (0.460, [11.770, 11.800]),
               (0.494, [11.732, 11.750, 11.768, 11.785, 11.800, 11.822]),
               (0.555, [11.795, 11.810, 11.830]),
               (0.603, [11.807, 11.822, 11.843])]

V28_STREAKS = [(-0.584, [11.780, 11.800, 11.820, 11.840, 11.860, 11.886]),
               (-0.567, [11.795, 11.815, 11.835, 11.855, 11.873]),
               (-0.551, [11.797, 11.820, 11.840, 11.860, 11.883]),
               (-0.533, [11.775, 11.800, 11.825, 11.850, 11.870, 11.883]),
               (-0.267, [11.783, 11.800, 11.815, 11.830, 11.845, 11.860, 11.875, 11.883]),
               (-0.186, [11.900]),
               (-0.159, [11.817, 11.840, 11.860, 11.880, 11.900, 11.925]),
               (-0.139, [11.858, 11.880, 11.900, 11.920, 11.940]),
               (-0.090, [11.833, 11.855, 11.875, 11.895, 11.915, 11.935, 11.958]),
               (-0.071, [11.842, 11.865, 11.890, 11.915, 11.940]),
               (-0.044, [11.850, 11.875, 11.900, 11.925, 11.950, 11.967]),
               (-0.026, [11.892, 11.915, 11.940, 11.960, 11.990]),
               (-0.009, [11.858, 11.880, 11.900, 11.925, 11.945, 11.965, 11.985, 12.008]),
               (0.008, [11.875, 11.900, 11.925, 11.950, 11.975, 12.000, 12.017]),
               (0.024, [11.983, 12.000, 12.015]),
               (0.110, [11.875, 11.888, 11.900]),
               (0.127, [11.850, 11.875]),
               (0.158, [11.850, 11.870, 11.896]),
               (0.174, [11.833, 11.855, 11.875]),
               (0.192, [11.808, 11.830, 11.850, 11.867]),
               (0.208, [11.792, 11.810, 11.830, 11.850]),
               (0.241, [11.767, 11.785, 11.800, 11.820, 11.840, 11.867]),
               (0.260, [11.767, 11.785, 11.805, 11.825]),
               (0.276, [11.763, 11.780, 11.800, 11.808]),
               (0.293, [11.758, 11.770, 11.785]),
               (0.419, [11.783, 11.805, 11.825, 11.845, 11.865, 11.888]),
               (0.437, [11.775, 11.800, 11.820, 11.840, 11.860, 11.883]),
               (0.450, [11.792, 11.815, 11.835, 11.855, 11.880]),
               (0.467, [11.775, 11.800, 11.820, 11.845, 11.868, 11.880])]

V29_STREAKS = [(-0.622, [11.650, 11.675]),
               (-0.608, [11.605, 11.630, 11.655, 11.685]),
               (-0.590, [11.625, 11.650, 11.675, 11.700, 11.738]),
               (-0.574, [11.583, 11.610, 11.640, 11.665, 11.690, 11.728]),
               (-0.554, [11.646, 11.670, 11.708]),
               (-0.536, [11.604, 11.630, 11.660, 11.690, 11.725]),
               (-0.513, [11.625, 11.650, 11.685]),
               (-0.493, [11.583, 11.610, 11.635, 11.665]),
               (-0.157, [11.770, 11.790]),
               (-0.150, [11.810, 11.830, 11.853]),
               (-0.021, [11.917, 11.940, 11.960, 11.980]),
               (-0.010, [12.000, 12.030, 12.060]),
               (-0.004, [12.085, 12.100]),
               (0.012, [12.167, 12.185, 12.205]),
               (0.022, [11.940, 11.975, 12.010, 12.050]),
               (0.038, [11.855, 11.890, 11.930, 11.970, 12.000, 12.040, 12.080, 12.120]),
               (0.094, [12.000, 12.030]),
               (0.116, [11.900, 11.935, 11.970]),
               (0.127, [11.865, 11.880]),
               (0.344, [11.771, 11.790, 11.802]),
               (0.378, [11.604, 11.630, 11.655, 11.685]),
               (0.399, [11.583, 11.610, 11.640, 11.665, 11.690, 11.718]),
               (0.419, [11.600, 11.630, 11.660, 11.690, 11.720, 11.748]),
               (0.439, [11.594, 11.620, 11.650, 11.680, 11.705]),
               (0.460, [11.604, 11.635, 11.665, 11.695, 11.725]),
               (0.487, [11.625, 11.650, 11.675, 11.705]),
               (0.507, [11.583, 11.610, 11.635, 11.665, 11.675])]

V30_STREAKS = [(-0.631, [12.180, 12.210, 12.240, 12.270, 12.300, 12.330, 12.360, 12.400]),
               (-0.601, [12.266, 12.290, 12.320, 12.350, 12.380, 12.405]),
               (-0.574, [12.228, 12.250, 12.270, 12.290, 12.310, 12.330, 12.367]),
               (-0.506, [12.215, 12.240, 12.265, 12.290, 12.315, 12.340, 12.390]),
               (-0.486, [12.266, 12.290, 12.315, 12.340, 12.365, 12.418]),
               (-0.459, [12.266, 12.295, 12.325, 12.350, 12.380, 12.430]),
               (-0.438, [12.290, 12.320, 12.350, 12.376, 12.424]),
               (-0.411, [12.260, 12.290, 12.320, 12.350, 12.390]),
               (-0.389, [12.355, 12.370, 12.385, 12.400, 12.415, 12.430, 12.443]),
               (-0.325, [12.450, 12.470, 12.494]),
               (-0.071, [12.392, 12.420, 12.450, 12.480, 12.510, 12.535, 12.557]),
               (-0.053, [12.400, 12.430, 12.460, 12.490, 12.520, 12.550, 12.570]),
               (-0.037, [12.380, 12.410, 12.440, 12.470, 12.500, 12.545]),
               (-0.019, [12.405, 12.430, 12.460, 12.490, 12.520]),
               (0.007, [12.430, 12.460, 12.490, 12.530]),
               (0.038, [12.418, 12.445, 12.470, 12.500, 12.530]),
               (0.059, [12.405, 12.430, 12.460, 12.490, 12.520]),
               (0.079, [12.410, 12.440, 12.470, 12.500, 12.530]),
               (0.344, [12.323, 12.350, 12.375, 12.400, 12.424]),
               (0.369, [12.171, 12.200, 12.230, 12.260, 12.290, 12.330, 12.370, 12.405]),
               (0.392, [12.272, 12.300, 12.330, 12.360, 12.418]),
               (0.423, [12.228, 12.260, 12.290, 12.320, 12.350, 12.405]),
               (0.494, [12.220, 12.250, 12.280, 12.310, 12.340, 12.398]),
               (0.514, [12.240, 12.270, 12.300, 12.330, 12.360, 12.418]),
               (0.541, [12.266, 12.300, 12.330, 12.360, 12.430]),
               (0.561, [12.290, 12.320, 12.350, 12.380, 12.418]),
               (0.582, [12.260, 12.290, 12.320, 12.350, 12.392]),
               (0.611, [12.355, 12.370, 12.385, 12.400, 12.415, 12.430, 12.443])]


def from_streaks(streaks):
    ph, mg = [], []
    for p, mags in streaks:
        for m in mags:
            ph.append(p)
            mg.append(m)
    return ph, mg


def from_pairs(pairs):
    return [p for p, _ in pairs], [m for _, m in pairs]


def band(mag_a, mag_b):
    return PH_A + PH_B, mag_a + mag_b


DATA = [
    band(V17_MAG_A, V17_MAG_B), band(V18_MAG_A, V18_MAG_B),
    band(V19_MAG_A, V19_MAG_B), from_pairs(V20_PTS),
    band(V21_MAG_A, V21_MAG_B), from_pairs(V22_PTS),
    from_pairs(V23_PTS), from_pairs(V24_PTS),
    from_pairs(V25_PTS), from_pairs(V26_PTS),
    from_streaks(V27_STREAKS), from_streaks(V28_STREAKS),
    from_streaks(V29_STREAKS), from_streaks(V30_STREAKS),
]

# ---------------- layout ----------------
W, H = 886, 1334
fig = plt.figure(figsize=(W / 100, H / 100), dpi=100)
ROW_TOP = [8, 189, 369, 550, 731, 911, 1091]
ROW_BOT = [167, 348, 529, 709, 891, 1071, 1251]
COL_LEFT = [127, 472]
COL_W = 314
XLIM = (-0.641, 0.641)
FS = 19.5

for i in range(14):
    r, c = divmod(i, 2)
    ax = fig.add_axes([COL_LEFT[c] / W, 1 - ROW_BOT[r] / H,
                       COL_W / W, (ROW_BOT[r] - ROW_TOP[r]) / H])
    ph, mg = DATA[i]
    ax.plot(ph, mg, ls='none', marker='o', ms=1.8, mfc='black', mec='none')
    ax.set_xlim(*XLIM)
    ax.set_ylim(*YLIMS[i])

    t0, t1 = YTICKS[i]
    step = t1 - t0
    ax.set_yticks(YTICKS[i])
    ax.set_yticklabels(YTICKLABELS[i])
    minor = t0 + step / 5 * np.arange(-12, 18)
    lo, hi = min(YLIMS[i]), max(YLIMS[i])
    ax.set_yticks(minor[(minor > lo) & (minor < hi)], minor=True)
    ax.set_xticks(XTICKS)
    ax.set_xticks(np.arange(-6, 7) / 10, minor=True)
    if r == 6:
        ax.set_xticklabels(XTICKLABELS)
    else:
        ax.set_xticklabels([])

    ax.tick_params(which='both', direction='in', top=True, bottom=True,
                   left=True, right=True, width=1.2, labelsize=FS)
    ax.tick_params(which='major', length=7)
    ax.tick_params(which='minor', length=3.8)
    ax.tick_params(axis='x', pad=14)
    ax.tick_params(axis='y', pad=8)
    if c == 0:
        ax.tick_params(axis='y', labelleft=True, labelright=False)
    else:
        ax.tick_params(axis='y', labelleft=False, labelright=True)
    for sp in ax.spines.values():
        sp.set_linewidth(2.2)

    ax.text(0.105, 0.10, NAMES[i], transform=ax.transAxes, fontsize=FS,
            ha='left', va='baseline')
    ax.text(0.84, 0.10, PERIODS[i], transform=ax.transAxes, fontsize=FS,
            ha='right', va='baseline')

fig.text(23 / W, 1 - 629 / H, 'V', fontsize=FS, ha='center', va='center')
fig.text(284 / W, 1 - 1317 / H, 'Phase', fontsize=21.5, ha='center', va='center')
fig.text(629 / W, 1 - 1317 / H, 'Phase', fontsize=21.5, ha='center', va='center')

fig.savefig('out.png', dpi=100)
